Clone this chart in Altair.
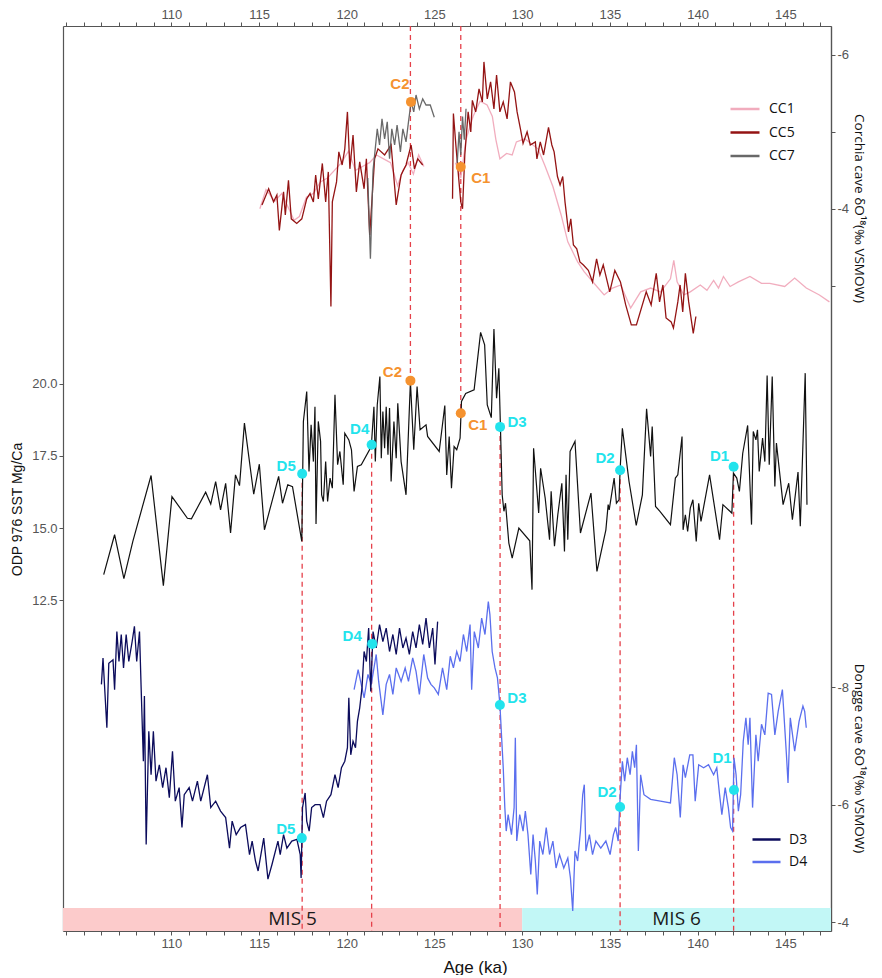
import altair as alt
import pandas as pd

# ---------------- scale domains ----------------
AGE_DOMAIN = [103.83, 147.6]
CC_DOMAIN = [-6.377, 5.39]      # Corchia cave d18O (reversed)
SST_DOMAIN = [1.06, 32.37]      # ODP 976 SST
DG_DOMAIN = [-19.27, -3.847]    # Dongge cave d18O (reversed)

# ---------------- Corchia cave series ----------------
cc1_a = [(115.05, -4.00), (115.40, -4.25), (115.90, -4.10), (116.30, -4.20), (116.70, -4.00),
         (117.00, -3.85), (117.30, -3.90), (117.70, -4.15), (118.10, -4.20), (118.50, -4.35),
         (118.90, -4.40), (119.30, -4.50), (119.70, -4.60), (120.10, -4.75), (120.50, -4.50),
         (120.90, -4.55), (121.30, -4.60), (121.70, -4.70), (122.10, -4.65), (122.50, -4.60),
         (122.90, -4.30), (123.20, -4.50), (123.50, -4.60), (123.80, -4.45), (124.10, -4.70),
         (124.40, -4.55)]
cc1_b = [(126.20, -4.60), (126.50, -4.40), (126.80, -4.90), (127.20, -5.20), (127.60, -5.40),
         (128.00, -5.35), (128.30, -5.20), (128.50, -4.90), (128.73, -4.65), (129.11, -4.72),
         (129.43, -4.70), (129.67, -4.87), (130.14, -4.91), (130.90, -4.78), (131.28, -4.57),
         (131.75, -4.29), (132.22, -3.92), (132.60, -3.57), (133.16, -3.31), (133.54, -3.18),
         (134.18, -3.01), (134.67, -2.88), (135.15, -2.97), (135.62, -3.01), (136.18, -2.71),
         (136.75, -2.92), (137.32, -2.97), (137.88, -2.92), (138.45, -3.09), (138.64, -3.33),
         (138.83, -3.05), (139.21, -2.88), (139.58, -2.92), (140.15, -3.01), (140.53, -2.94),
         (140.91, -3.07), (141.19, -2.97), (141.47, -3.12), (141.85, -2.99), (142.32, -3.05),
         (142.98, -3.12), (143.64, -3.03), (144.11, -3.03), (144.96, -2.99), (145.53, -3.10),
         (146.19, -2.97), (146.94, -2.88), (147.51, -2.79)]
cc5_a = [(115.17, -4.05), (115.55, -4.26), (115.83, -4.09), (116.02, -4.18), (116.16, -3.72),
         (116.40, -4.22), (116.50, -3.92), (116.68, -4.37), (116.84, -3.87), (117.15, -3.81),
         (117.44, -3.87), (117.72, -4.13), (117.91, -4.20), (118.10, -4.09), (118.23, -4.44),
         (118.38, -4.13), (118.61, -4.59), (118.80, -4.09), (118.95, -4.48), (119.10, -2.73),
         (119.18, -4.09), (119.42, -4.35), (119.55, -4.74), (119.74, -4.57), (119.89, -4.78),
         (120.04, -5.26), (120.18, -4.52), (120.36, -4.96), (120.55, -4.22), (120.74, -4.61),
         (120.99, -4.26), (121.12, -4.65), (121.31, -3.66), (121.59, -4.65), (121.78, -4.78),
         (122.16, -4.70), (122.53, -4.83), (122.82, -4.05), (123.10, -4.44), (123.38, -4.57),
         (123.67, -4.83), (123.86, -4.52), (124.05, -4.65), (124.33, -4.57)]
cc5_b = [(126.03, -4.13), (126.08, -5.24), (126.22, -4.83), (126.35, -4.48), (126.50, -4.09),
         (126.60, -4.00), (126.73, -4.70), (126.92, -5.26), (127.07, -5.00), (127.16, -5.41),
         (127.35, -5.26), (127.54, -5.56), (127.73, -5.39), (127.82, -5.91), (128.01, -5.43),
         (128.20, -5.65), (128.39, -5.30), (128.54, -5.74), (128.73, -5.26), (128.92, -5.39),
         (129.14, -5.17), (129.33, -5.65), (129.56, -5.52), (129.71, -5.26), (129.90, -5.04),
         (130.05, -4.85), (130.28, -5.00), (130.46, -4.83), (130.75, -4.87), (130.84, -4.65),
         (131.03, -4.87), (131.22, -4.70), (131.50, -5.06), (131.69, -4.83), (131.82, -4.74),
         (132.01, -4.42), (132.16, -4.31), (132.31, -4.42), (132.44, -4.09), (132.64, -3.70),
         (132.77, -3.87), (132.92, -3.53), (133.11, -3.48), (133.29, -3.31), (133.49, -3.27),
         (133.77, -3.20), (134.01, -3.05), (134.24, -3.35), (134.43, -3.14), (134.62, -3.27),
         (134.99, -2.92), (135.28, -3.20), (135.60, -3.05), (135.90, -2.75), (136.22, -2.49),
         (136.51, -2.49), (137.07, -2.92), (137.35, -2.75), (137.64, -3.16), (137.83, -2.79),
         (138.02, -3.01), (138.20, -2.58), (138.49, -2.53), (138.62, -2.45), (138.87, -2.79),
         (139.00, -3.01), (139.15, -2.66), (139.30, -3.16), (139.49, -2.79), (139.75, -2.38),
         (139.90, -2.60)]
cc7_a = [(121.20, -4.40), (121.35, -3.35), (121.50, -4.50), (121.59, -4.70), (121.74, -5.04),
         (121.87, -4.83), (122.01, -5.17), (122.16, -4.91), (122.31, -5.13), (122.44, -4.65),
         (122.57, -5.04), (122.73, -4.83), (122.87, -5.09), (123.06, -4.74), (123.20, -5.04),
         (123.38, -4.87), (123.52, -5.13), (123.67, -5.39), (123.82, -5.26), (123.95, -5.48),
         (124.14, -5.30), (124.33, -5.43), (124.52, -5.35), (124.76, -5.35), (124.99, -5.19)]
cc7_b = [(126.30, -4.60), (126.40, -5.00), (126.50, -4.70), (126.60, -5.20), (126.70, -4.90),
         (126.80, -5.30)]

# ---------------- ODP 976 SST ----------------
sst = [(106.15, 13.39), (106.77, 14.77), (107.30, 13.25), (107.81, 14.54), (108.85, 16.82),
       (109.55, 13.01), (110.04, 16.09), (110.92, 15.34), (111.15, 15.32), (111.96, 16.24),
       (112.25, 15.83), (112.53, 16.61), (112.81, 15.63), (113.10, 16.55), (113.38, 14.83),
       (113.66, 16.84), (113.89, 16.47), (114.17, 18.63), (114.70, 16.17), (115.02, 17.21),
       (115.31, 14.94), (115.70, 15.83), (116.12, 16.79), (116.34, 15.86), (116.64, 16.50),
       (116.91, 16.43), (117.44, 14.54), (117.53, 18.69), (117.72, 19.72), (117.85, 16.96),
       (117.97, 18.57), (118.10, 17.30), (118.19, 19.20), (118.25, 15.14), (118.38, 18.69),
       (118.51, 18.00), (118.57, 16.15), (118.67, 15.92), (118.80, 17.30), (118.91, 15.92),
       (119.05, 16.73), (119.18, 16.38), (119.33, 19.61), (119.48, 17.19), (119.61, 17.65),
       (119.80, 16.50), (119.89, 18.28), (120.12, 18.05), (120.27, 17.71), (120.42, 16.27),
       (120.61, 17.13), (120.83, 17.19), (121.40, 17.82), (121.55, 19.20), (121.63, 17.30),
       (121.74, 19.26), (121.89, 20.24), (121.97, 17.42), (122.06, 19.03), (122.16, 17.76),
       (122.25, 19.20), (122.35, 17.54), (122.44, 19.15), (122.53, 16.61), (122.69, 18.69),
       (122.82, 17.42), (122.91, 19.32), (123.10, 17.30), (123.38, 16.15), (123.63, 20.07),
       (123.82, 17.71), (124.01, 19.90), (124.18, 18.40), (124.52, 18.57), (124.61, 18.17),
       (125.27, 17.65), (125.59, 19.24), (125.70, 16.84), (125.84, 18.17), (125.97, 16.38),
       (126.12, 17.82), (126.27, 17.71), (126.46, 18.11), (126.54, 19.38), (126.78, 19.66),
       (127.26, 19.78), (127.63, 21.77), (127.86, 21.34), (128.01, 19.26), (128.24, 18.82),
       (128.39, 21.89), (128.54, 19.49), (128.67, 20.53), (128.76, 18.51), (128.86, 16.15),
       (128.96, 15.58), (129.05, 15.86), (129.24, 14.48), (129.43, 13.96), (129.81, 15.00),
       (130.43, 14.56), (130.56, 12.87), (130.65, 17.76), (130.94, 15.52), (131.05, 17.07),
       (131.31, 16.04), (131.56, 14.60), (131.65, 16.27), (131.84, 14.37), (132.03, 15.46),
       (132.26, 16.55), (132.41, 14.19), (132.50, 16.84), (132.60, 14.60), (132.73, 17.65),
       (133.01, 18.00), (133.32, 14.83), (133.92, 16.21), (134.26, 13.50), (134.77, 14.94),
       (134.90, 15.81), (134.96, 15.63), (135.24, 16.73), (135.37, 15.86), (135.52, 15.98),
       (135.58, 17.02), (135.71, 18.45), (136.09, 16.61), (136.50, 15.09), (136.85, 16.15),
       (137.09, 19.13), (137.32, 17.48), (137.41, 18.51), (137.60, 15.75), (137.85, 15.58),
       (138.45, 15.12), (138.73, 16.73), (138.87, 16.84), (139.11, 18.17), (139.17, 14.94),
       (139.30, 15.46), (139.43, 14.88), (139.58, 15.69), (139.73, 15.98), (139.92, 14.54),
       (140.06, 15.86), (140.19, 15.23), (140.68, 16.84), (141.25, 14.60), (141.44, 15.81),
       (141.95, 15.52), (142.04, 16.90), (142.23, 16.73), (142.38, 16.27), (142.57, 17.59),
       (142.85, 18.55), (143.07, 15.12), (143.17, 18.34), (143.32, 18.05), (143.41, 18.40),
       (143.51, 16.96), (143.70, 18.11), (143.83, 17.30), (143.96, 20.28), (144.08, 17.19),
       (144.25, 20.24), (144.40, 16.44), (144.49, 17.94), (144.87, 15.81), (145.19, 16.55),
       (145.40, 15.29), (145.72, 16.94), (145.85, 15.06), (146.13, 20.36), (146.23, 15.81)]

# ---------------- Dongge cave series ----------------
d3 = [(106.02, -8.05), (106.11, -8.50), (106.33, -7.31), (106.44, -8.41), (106.68, -8.47),
      (106.77, -7.96), (106.90, -8.95), (107.02, -8.44), (107.15, -8.90), (107.28, -8.33),
      (107.43, -8.90), (107.58, -8.44), (107.77, -8.78), (107.90, -9.04), (108.03, -8.44),
      (108.19, -8.95), (108.28, -8.02), (108.41, -6.74), (108.47, -7.85), (108.57, -5.32),
      (108.72, -7.25), (108.85, -6.51), (108.98, -7.25), (109.13, -6.40), (109.32, -6.68),
      (109.51, -6.29), (109.70, -6.63), (109.89, -6.12), (110.07, -6.91), (110.23, -6.06),
      (110.45, -6.29), (110.61, -5.61), (110.74, -6.17), (111.02, -6.29), (111.21, -6.06),
      (111.49, -6.40), (111.68, -6.06), (112.06, -6.51), (112.25, -5.95), (112.53, -6.06),
      (112.81, -5.89), (113.10, -5.78), (113.32, -5.26), (113.47, -5.72), (113.70, -5.49),
      (113.95, -5.61), (114.23, -5.66), (114.46, -5.15), (114.61, -5.38), (114.80, -5.04),
      (114.95, -4.87), (115.27, -5.43), (115.51, -4.73), (115.74, -4.98), (116.08, -5.38),
      (116.21, -5.15), (116.40, -5.49), (116.59, -5.26), (116.87, -5.38), (117.16, -5.41),
      (117.35, -5.15), (117.40, -4.75), (117.48, -5.95), (117.63, -6.20), (117.72, -5.72),
      (117.86, -5.55), (118.00, -5.95), (118.20, -6.00), (118.48, -6.00), (118.67, -5.78),
      (118.85, -6.06), (119.10, -6.17), (119.33, -6.51), (119.51, -6.29), (119.70, -6.63),
      (119.89, -6.74), (120.04, -6.97), (120.12, -7.82), (120.23, -6.85), (120.36, -7.08),
      (120.50, -6.97), (120.61, -7.42), (120.74, -7.65), (120.87, -7.99), (120.99, -8.61),
      (121.12, -8.44), (121.25, -9.01), (121.37, -7.93), (121.50, -8.95), (121.68, -8.67),
      (121.87, -9.07), (122.06, -8.78), (122.25, -9.01), (122.44, -8.61), (122.63, -8.90),
      (122.82, -8.56), (123.01, -9.01), (123.20, -8.67), (123.38, -8.84), (123.57, -8.56),
      (123.76, -8.95), (123.95, -8.67), (124.14, -9.07), (124.33, -8.73), (124.52, -9.18),
      (124.71, -8.67), (124.90, -9.01), (125.03, -8.39), (125.18, -9.12)]
d4 = [(120.42, -7.96), (120.65, -8.30), (120.99, -7.82), (121.21, -8.22), (121.40, -8.05),
      (121.68, -8.56), (121.82, -8.10), (122.06, -7.53), (122.25, -8.05), (122.44, -8.22),
      (122.63, -7.88), (122.82, -8.33), (123.10, -8.10), (123.33, -8.33), (123.52, -8.10),
      (123.76, -8.50), (123.95, -8.27), (124.14, -7.88), (124.39, -8.56), (124.61, -8.16),
      (124.80, -8.05), (124.99, -7.99), (125.22, -7.88), (125.46, -8.33), (125.70, -7.96),
      (125.90, -8.53), (126.08, -8.33), (126.27, -8.61), (126.46, -8.44), (126.65, -8.90),
      (126.84, -8.61), (127.03, -9.07), (127.12, -7.96), (127.27, -8.95), (127.50, -8.67),
      (127.69, -9.18), (127.88, -8.90), (128.07, -9.46), (128.16, -9.24), (128.29, -8.61),
      (128.45, -8.33), (128.59, -8.16), (128.73, -7.71), (128.82, -7.19), (128.92, -6.63),
      (129.01, -5.95), (129.09, -5.55), (129.20, -5.83), (129.39, -5.49), (129.54, -5.95),
      (129.61, -7.14), (129.69, -5.38), (129.86, -5.83), (130.05, -5.55), (130.18, -5.89),
      (130.33, -5.49), (130.49, -4.81), (130.62, -5.49), (130.75, -5.04), (130.86, -4.47),
      (131.00, -5.38), (131.18, -5.15), (131.37, -5.61), (131.56, -5.15), (131.75, -5.38),
      (131.93, -4.92), (132.13, -5.15), (132.37, -4.92), (132.60, -5.09), (132.75, -4.75),
      (132.88, -4.19), (133.01, -5.21), (133.16, -5.04), (133.32, -5.55), (133.45, -6.17),
      (133.54, -6.34), (133.63, -5.21), (133.83, -5.49), (134.01, -5.15), (134.20, -5.38),
      (134.48, -5.26), (134.77, -5.38), (135.01, -5.15), (135.20, -5.49), (135.33, -5.61),
      (135.47, -5.38), (135.58, -6.12), (135.71, -6.74), (135.84, -6.40), (135.99, -6.80),
      (136.15, -6.51), (136.28, -6.91), (136.41, -6.63), (136.51, -7.02), (136.62, -5.21),
      (136.75, -6.51), (136.94, -6.17), (137.32, -6.09), (137.88, -6.06), (138.45, -6.03),
      (138.67, -6.80), (138.83, -6.51), (139.01, -5.78), (139.17, -6.68), (139.30, -6.46),
      (139.55, -6.85), (139.73, -6.85), (139.86, -6.06), (140.06, -6.68), (140.34, -6.63),
      (140.62, -6.68), (140.91, -6.51), (141.09, -6.63), (141.25, -6.17), (141.38, -5.83),
      (141.57, -6.29), (141.75, -5.95), (141.88, -5.61), (141.99, -5.55), (142.07, -6.80),
      (142.19, -6.51), (142.32, -5.89), (142.45, -6.17), (142.60, -7.08), (142.75, -7.48),
      (142.88, -7.02), (142.98, -7.48), (143.13, -5.95), (143.32, -7.19), (143.45, -6.74),
      (143.64, -7.37), (143.83, -7.19), (144.02, -7.90), (144.21, -7.88), (144.40, -7.19),
      (144.59, -7.59), (144.83, -7.96), (145.06, -6.85), (145.15, -6.37), (145.28, -7.48),
      (145.53, -6.91), (145.78, -7.42), (146.00, -7.68), (146.10, -7.59), (146.19, -7.31)]

# ---------------- tie points ----------------
cc_marks = [("C2", 123.66, -5.39), ("C1", 126.50, -4.545)]
sst_marks = [("C2", 123.63, 20.10), ("C1", 126.50, 18.97), ("D3", 128.74, 18.50),
             ("D2", 135.58, 17.00), ("D1", 142.05, 17.12), ("D4", 121.42, 17.88),
             ("D5", 117.46, 16.88)]
dg_marks = [("D5", 117.44, -5.43), ("D4", 121.45, -8.74), ("D3", 128.73, -7.70),
            ("D2", 135.58, -5.96), ("D1", 142.07, -6.25)]

# ---------------- MIS stages ----------------
mis_names = ["MIS 5", "MIS 6"]
mis_start = [AGE_DOMAIN[0], 130.0]
mis_end = [130.0, AGE_DOMAIN[1]]
mis_band_top = -4.24          # Dongge-axis units

age_ticks = list(range(104, 148))

# ---------------- styles ----------------
ORANGE = "#f5922f"
CYAN = "#22e3ec"
CC_COLORS = ["#f0a6b8", "#8b0000", "#5c5c5c"]
DG_COLORS = ["#0c0c5c", "#5b6fee"]
LABEL_OFFSETS = {
    ("cc", "C2"): (-11, -18), ("cc", "C1"): (20, 11),
    ("sst", "C2"): (-18, -9), ("sst", "C1"): (17, 12), ("sst", "D3"): (17, -5),
    ("sst", "D2"): (-15, -12), ("sst", "D1"): (-14, -11), ("sst", "D4"): (-12, -16),
    ("sst", "D5"): (-16, -8),
    ("dg", "D5"): (-16, -9), ("dg", "D4"): (-20, -8), ("dg", "D3"): (17, -7),
    ("dg", "D2"): (-13, -15), ("dg", "D1"): (-12, -32),
}


def seg_frame(points, series, seg):
    df = pd.DataFrame(points, columns=["age", "val"])
    df["series"] = series
    df["seg"] = f"{series}-{seg}"
    return df


cc_df = pd.concat([seg_frame(cc1_a, "CC1", 0), seg_frame(cc1_b, "CC1", 1),
                   seg_frame(cc5_a, "CC5", 0), seg_frame(cc5_b, "CC5", 1),
                   seg_frame(cc7_a, "CC7", 0), seg_frame(cc7_b, "CC7", 1)], ignore_index=True)
sst_df = pd.DataFrame(sst, columns=["age", "val"])
dg_df = pd.concat([seg_frame(d4, "D4", 0), seg_frame(d3, "D3", 0)], ignore_index=True)

cc_m = pd.DataFrame(cc_marks, columns=["lab", "age", "val"])
sst_m = pd.DataFrame(sst_marks, columns=["lab", "age", "val"])
dg_m = pd.DataFrame(dg_marks, columns=["lab", "age", "val"])
for m in (cc_m, sst_m, dg_m):
    m["kind"] = m["lab"].str[0]

rules_df = sst_m.copy()
rules_df["y1"] = [SST_DOMAIN[1] if k == "C" else v for k, v in zip(rules_df["kind"], rules_df["val"])]
rules_df["y2"] = [v if k == "C" else SST_DOMAIN[0] for k, v in zip(rules_df["kind"], rules_df["val"])]

mis_df = pd.DataFrame({"name": mis_names, "start": mis_start, "end": mis_end})
mis_df["mid"] = (mis_df["start"] + mis_df["end"]) / 2
mis_df["ytop"] = mis_band_top
mis_df["ybot"] = DG_DOMAIN[1]
mis_df["ytxt"] = (mis_df["ytop"] + mis_df["ybot"]) / 2

# ---------------- encodings ----------------
xscale = alt.Scale(domain=AGE_DOMAIN, nice=False, zero=False)


def X(field="age", axis=None):
    return alt.X(f"{field}:Q", scale=xscale, axis=axis)


def Y(field, dom, rev, axis=None):
    return alt.Y(f"{field}:Q", scale=alt.Scale(domain=dom, nice=False, zero=False, reverse=rev), axis=axis)


x_label_expr = "(datum.value % 5 == 0 && datum.value > 105) ? '' + datum.value : ''"
bottom_axis = alt.Axis(orient="bottom", values=age_ticks, labelExpr=x_label_expr, labelOverlap=False,
                       labelFlush=False, title="Age (ka)", titleFontSize=17, titleX=412, titleY=36,
                       titleBaseline="middle", titleAlign="center", labelPadding=2)
top_axis = alt.Axis(orient="top", values=age_ticks, labelExpr=x_label_expr, labelOverlap=False,
                    labelFlush=False, title=None, labelPadding=1)
sst_axis = alt.Axis(orient="left", values=[12.5, 15, 17.5, 20], format=".1f", title="ODP 976 SST Mg/Ca",
                    titleX=-46, titleY=483, titleAngle=270, titleBaseline="middle", titleAlign="center",
                    titleFontSize=14)
cc_axis = alt.Axis(orient="right", values=[-6, -5, -4, -3],
                   labelExpr="(datum.value == -6 || datum.value == -4) ? '' + datum.value : ''",
                   labelOverlap=False, title="Corchia cave δO¹⁸(‰ VSMOW)", titleAngle=90, titleX=27,
                   titleY=182, titleBaseline="middle", titleAlign="center", titleFont="Open Sans",
                   titleFontSize=13.5)
dg_axis = alt.Axis(orient="right", values=[-8, -6, -4], labelExpr="'' + datum.value", labelOverlap=False,
                   title="Dongge cave δO¹⁸(‰ VSMOW)", titleAngle=90, titleX=27, titleY=732,
                   titleBaseline="middle", titleAlign="center", titleFont="Open Sans", titleFontSize=13.5)

layers = []

# MIS bands
layers.append(alt.Chart(mis_df).mark_rect().encode(
    x=X("start", bottom_axis), x2="end",
    y=Y("ytop", DG_DOMAIN, True), y2="ybot",
    color=alt.Color("name:N", scale=alt.Scale(domain=mis_names, range=["#fccbcb", "#c2f7f6"]), legend=None),
))
layers.append(alt.Chart(mis_df).mark_text(font="Open Sans", fontSize=19, color="#1a1a1a",
                                          baseline="middle", align="center").encode(
    x=X("mid", top_axis), y=Y("ytxt", DG_DOMAIN, True), text="name:N"))

# dashed tie lines
layers.append(alt.Chart(rules_df).mark_rule(strokeDash=[5, 4], color="#e5414b", strokeWidth=1.3).encode(
    x=X(), y=Y("y1", SST_DOMAIN, False), y2="y2"))

# Corchia lines
layers.append(alt.Chart(cc_df).mark_line(strokeWidth=1.3, opacity=0.92).encode(
    x=X(), y=Y("val", CC_DOMAIN, True, cc_axis),
    color=alt.Color("series:N", scale=alt.Scale(domain=["CC1", "CC5", "CC7"], range=CC_COLORS),
                    legend=alt.Legend(orient="none", legendX=666, legendY=72, title=None,
                                      symbolType="stroke", symbolStrokeWidth=2.5, symbolSize=841,
                                      clipHeight=22, rowPadding=1.5, labelOffset=8,
                                      labelFont="Open Sans", labelFontSize=14, labelColor="#111")),
    detail="seg:N"))

# SST line
layers.append(alt.Chart(sst_df).mark_line(strokeWidth=1.2, color="#111111").encode(
    x=X(), y=Y("val", SST_DOMAIN, False, sst_axis)))

# Dongge lines
layers.append(alt.Chart(dg_df).mark_line(strokeWidth=1.3).encode(
    x=X(), y=Y("val", DG_DOMAIN, True, dg_axis),
    color=alt.Color("series:N", scale=alt.Scale(domain=["D3", "D4"], range=DG_COLORS),
                    legend=alt.Legend(orient="none", legendX=688, legendY=803, title=None,
                                      symbolType="stroke", symbolStrokeWidth=2.5, symbolSize=784,
                                      clipHeight=21, rowPadding=1.5, labelOffset=7,
                                      labelFont="Open Sans", labelFontSize=14, labelColor="#111")),
    detail="seg:N"))

kind_color = alt.Color("kind:N", scale=alt.Scale(domain=["C", "D"], range=[ORANGE, CYAN]), legend=None)

for panel, mdf, dom, rev in (("cc", cc_m, CC_DOMAIN, True), ("sst", sst_m, SST_DOMAIN, False),
                             ("dg", dg_m, DG_DOMAIN, True)):
    layers.append(alt.Chart(mdf).mark_circle(size=100, opacity=1).encode(
        x=X(), y=Y("val", dom, rev), color=kind_color))
    for lab in mdf["lab"]:
        dx, dy = LABEL_OFFSETS[(panel, lab)]
        layers.append(alt.Chart(mdf).transform_filter(alt.datum.lab == lab).mark_text(
            font="Liberation Sans", fontWeight="bold", fontSize=15, dx=dx, dy=dy,
            align="center", baseline="middle").encode(
            x=X(), y=Y("val", dom, rev), text="lab:N", color=kind_color))

chart = alt.layer(*layers).resolve_scale(
    y="independent", color="independent"
).resolve_axis(
    x="independent", y="independent"
).properties(
    width=768, height=905, padding={"left": 2, "top": 0, "right": 3, "bottom": 0}
).configure_view(stroke=None).configure_axis(
    grid=False, domainColor="#555555", domainWidth=1.2, tickColor="#555555", tickSize=4,
    labelColor="#555555", labelFont="Liberation Sans", labelFontSize=13,
    titleFont="Liberation Sans", titleFontWeight="normal", titleColor="#111111"
)

chart.save("out.html", embed_options={"renderer": "svg", "actions": False})
